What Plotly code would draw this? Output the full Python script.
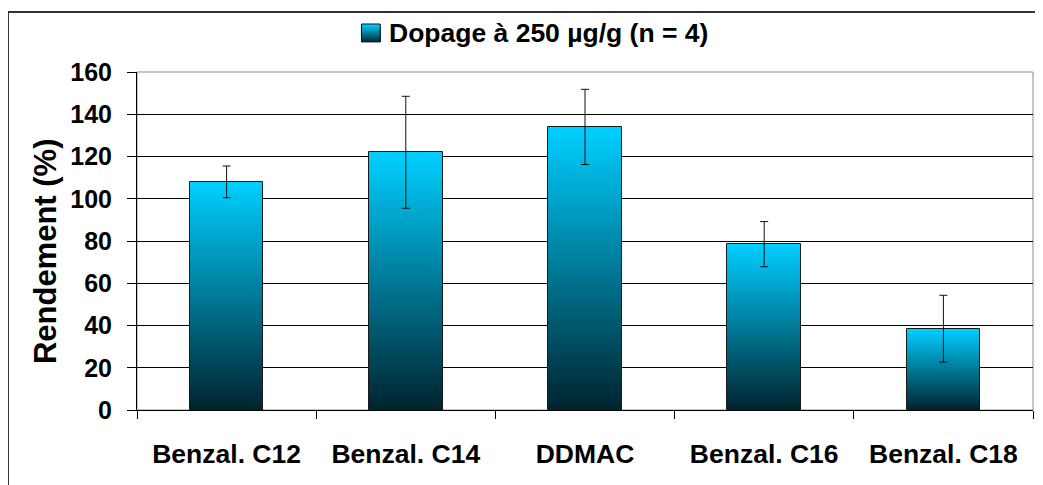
import plotly.graph_objects as go

# Rendement (%) par composé, dopage à 250 µg/g (n = 4)
categories = ["Benzal. C12", "Benzal. C14", "DDMAC", "Benzal. C16", "Benzal. C18"]
rendement = [108, 122, 134, 78.5, 38.5]
ecart_type = [7.5, 26.5, 17.8, 10.7, 15.8]
y_ticks = [0, 20, 40, 60, 80, 100, 120, 140, 160]
legend_label = "Dopage à 250 µg/g (n = 4)"
y_title = "Rendement (%)"

FONT = "Liberation Sans, Arial, sans-serif"
TOP = (0, 206, 255)      # cyan at the top of each bar
BOTTOM = (0, 34, 44)     # dark teal at the base
N_STEPS = 60
BAR_W = 0.41


def mix(t):
    """Colour between BOTTOM (t=0) and TOP (t=1)."""
    r, g, b = (round(lo + (hi - lo) * t) for lo, hi in zip(BOTTOM, TOP))
    return f"rgb({r},{g},{b})"


fig = go.Figure()

# gradient: tallest first, each following bar a bit shorter and darker
for k in range(N_STEPS):
    frac = 1 - k / N_STEPS
    c = mix(frac)
    fig.add_trace(go.Bar(
        x=categories,
        y=[v * frac for v in rendement],
        width=BAR_W,
        marker=dict(color=c, line=dict(width=0)),
        showlegend=False,
        hoverinfo="skip",
    ))

# outline + error bars
fig.add_trace(go.Bar(
    x=categories,
    y=rendement,
    width=BAR_W,
    marker=dict(color="rgba(0,0,0,0)", line=dict(color="#1a1a1a", width=1)),
    error_y=dict(type="data", array=ecart_type, visible=True,
                 color="#111111", thickness=1, width=4),
    name=legend_label,
    showlegend=False,
))

# outer frame
shapes = [dict(type="rect", xref="paper", yref="paper",
               x0=-0.144, x1=1.03, y0=-0.25, y1=1.1775,
               line=dict(color="#333333", width=2), layer="below")]
# plot-area border (grey)
shapes.append(dict(type="rect", xref="paper", yref="paper",
                   x0=0, x1=1, y0=0, y1=1,
                   line=dict(color="#8c8c8c", width=1), layer="below"))

# legend square with gradient (tallest first so there are no seams)
sq_x0, sq_x1, sq_y0, sq_y1 = 0.2505, 0.2715, 1.089, 1.142
steps = 16
for k in range(steps):
    frac = 1 - k / steps
    shapes.append(dict(type="rect", xref="paper", yref="paper",
                       x0=sq_x0, x1=sq_x1, y0=sq_y0,
                       y1=sq_y0 + (sq_y1 - sq_y0) * frac,
                       fillcolor=mix(frac), line=dict(width=0)))
shapes.append(dict(type="rect", xref="paper", yref="paper",
                   x0=sq_x0, x1=sq_x1, y0=sq_y0, y1=sq_y1,
                   line=dict(color="#111111", width=1)))

# page body has an 8px margin, so the figure is 8px smaller each way
fig.update_layout(
    width=1035, height=477,
    margin=dict(l=129, r=10, t=64, b=75),
    paper_bgcolor="white", plot_bgcolor="white",
    barmode="overlay",
    bargap=0,
    font=dict(family=FONT, color="black", size=22, weight="bold"),
    shapes=shapes,
    annotations=[
        dict(text=legend_label, xref="paper", yref="paper",
             x=0.279, y=1.1155, xanchor="left", yanchor="middle",
             showarrow=False,
             font=dict(family=FONT, size=26.5, weight="bold")),
        dict(text=y_title, xref="paper", yref="paper",
             x=-0.1027, y=0.47, xanchor="center", yanchor="middle",
             textangle=-90, showarrow=False,
             font=dict(family=FONT, size=31, weight="bold")),
    ],
)

fig.update_xaxes(
    type="category",
    showline=True, linecolor="black", linewidth=1,
    ticks="outside", tickson="boundaries", ticklen=8, tickcolor="black",
    ticklabelstandoff=20,
    tickfont=dict(family=FONT, size=26.5, weight="bold"),
    showgrid=False,
)
fig.update_yaxes(
    range=[0, 160], tickvals=y_ticks,
    showline=True, linecolor="black", linewidth=1,
    ticks="outside", ticklen=9, tickcolor="black",
    ticklabelstandoff=10,
    tickfont=dict(family=FONT, size=25, weight="bold"),
    showgrid=True, gridcolor="black", gridwidth=1,
    zeroline=False,
)

fig.write_html("out.html")
